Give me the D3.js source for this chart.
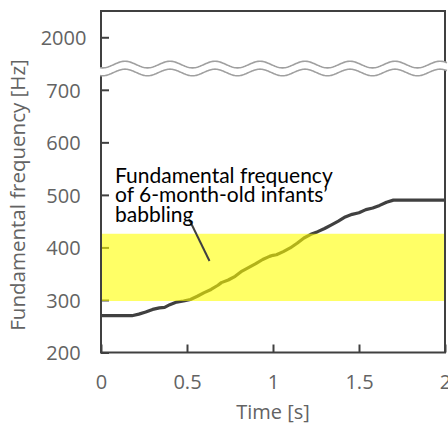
<!DOCTYPE html>
<html>
<head>
<meta charset="utf-8">
<script src="https://cdn.jsdelivr.net/npm/d3@7"></script>
<style>
  html, body { margin: 0; padding: 0; background: #ffffff; }
  svg { display: block; }
</style>
</head>
<body>
<svg id="chart" width="448" height="425"></svg>
<script>
// ---- data ----
const timeS = [0, 0.05, 0.10, 0.15, 0.18, 0.22, 0.26, 0.30, 0.34, 0.37, 0.40, 0.44, 0.48, 0.52,
  0.56, 0.60, 0.64, 0.68, 0.70, 0.74, 0.78, 0.82, 0.86, 0.90, 0.94, 0.98, 1.00, 1.02, 1.06,
  1.10, 1.14, 1.18, 1.22, 1.26, 1.30, 1.34, 1.38, 1.42, 1.46, 1.50, 1.54, 1.58, 1.62, 1.66,
  1.70, 1.80, 1.90, 2.00];
const f0Hz = [270, 270, 270, 270, 270, 273, 277, 282, 285, 286, 291, 296, 298, 301,
  307, 314, 320, 328, 333, 338, 345, 355, 362, 369, 377, 383, 385, 386, 392,
  399, 408, 418, 425, 430, 436, 443, 450, 458, 463, 466, 472, 475, 480, 486,
  490, 490, 490, 490];
const babblingRange = [298, 426];
const yTickValues = [200, 300, 400, 500, 600, 700, 800];
const yTickLabels = ["200", "300", "400", "500", "600", "700", "2000"];
const xTickValues = [0, 0.5, 1, 1.5, 2];
const xTickLabels = ["0", "0.5", "1", "1.5", "2"];
const breakValues = [733, 748];
const annotationLines = ["Fundamental frequency", "of 6-month-old infants\u2019", "babbling"];
const xTitle = "Time [s]";
const yTitle = "Fundamental frequency [Hz]";

// ---- layout ----
const L = 101, R = 445, T = 11, B = 352.5;
const svg = d3.select("#chart");
const x = d3.scaleLinear().domain([0, 2]).range([L, R]);
const y = d3.scaleLinear().domain([200, 850]).range([B, T]);
const axisColor = "#404040";
const textGray = "#636363";
const font = "'Open Sans', 'Noto Sans', sans-serif";
const annFont = "Lato, 'Open Sans', sans-serif";

// y axis ticks (inward)
const gy = svg.append("g").attr("transform", `translate(${L},0)`)
  .call(d3.axisLeft(y).tickValues(yTickValues).tickFormat((d, i) => yTickLabels[i]).tickSize(-8));
gy.select(".domain").remove();
gy.selectAll(".tick line").attr("stroke", axisColor).attr("stroke-width", 2);
gy.selectAll(".tick text").attr("x", -37.5).attr("text-anchor", "middle").attr("dy", "0.36em")
  .attr("fill", textGray).style("font-family", font).style("font-size", "20px");

// x axis ticks (inward)
const gx = svg.append("g").attr("transform", `translate(0,${B})`)
  .call(d3.axisBottom(x).tickValues(xTickValues).tickFormat((d, i) => xTickLabels[i]).tickSize(-8));
gx.select(".domain").remove();
gx.selectAll(".tick line").attr("stroke", axisColor).attr("stroke-width", 2);
gx.selectAll(".tick text").attr("y", 36.5).attr("dy", 0)
  .attr("fill", textGray).style("font-family", font).style("font-size", "20px");

// data line
const pts = timeS.map((t, i) => [t, f0Hz[i]]);
svg.append("path").datum(pts)
  .attr("d", d3.line().x(d => x(d[0])).y(d => y(d[1])))
  .attr("fill", "none").attr("stroke", axisColor).attr("stroke-width", 3.2)
  .attr("stroke-linejoin", "round");

// babbling band
svg.append("rect")
  .attr("x", L + 1).attr("width", R - L - 1)
  .attr("y", y(babblingRange[1])).attr("height", y(babblingRange[0]) - y(babblingRange[1]))
  .attr("fill", "#ffff00").attr("fill-opacity", 0.6);

// frame
svg.append("path")
  .attr("d", `M${L},${T}H${R}V${B}H${L}Z`)
  .attr("fill", "none").attr("stroke", axisColor).attr("stroke-width", 2);

// axis break (wavy lines)
const period = 45, amp = 3.3, phase0 = 125;
function wave(cy) {
  const p = [];
  for (let px = L - 1; px <= R + 2; px += 1) {
    p.push([px, cy - amp * Math.cos(2 * Math.PI * (px - phase0) / period)]);
  }
  return p;
}
const yTop = y(breakValues[1]), yBot = y(breakValues[0]);
const wt = wave(yTop), wb = wave(yBot);
svg.append("path")
  .attr("d", d3.line()(wt.concat(wb.slice().reverse())) + "Z")
  .attr("fill", "#ffffff").attr("stroke", "none");
[wt, wb].forEach(w => {
  svg.append("path").attr("d", d3.line()(w))
    .attr("fill", "none").attr("stroke", "#a0a0a0").attr("stroke-width", 1.6);
});

// annotation leader + text
svg.append("line")
  .attr("x1", 189).attr("y1", 219).attr("x2", 209.5).attr("y2", 261)
  .attr("stroke", axisColor).attr("stroke-width", 2);
const ann = svg.append("text").attr("x", 115).attr("y", 182.5)
  .attr("fill", "#000000").style("font-family", annFont).style("font-size", "21px");
annotationLines.forEach((s, i) => {
  ann.append("tspan").attr("x", 115).attr("dy", i === 0 ? 0 : 19.5).text(s);
});

// axis titles
svg.append("text").attr("x", (L + R) / 2).attr("y", 419)
  .attr("text-anchor", "middle").attr("fill", textGray)
  .style("font-family", font).style("font-size", "20px").text(xTitle);
svg.append("text").attr("transform", "translate(25,195) rotate(-90)")
  .attr("text-anchor", "middle").attr("fill", textGray)
  .style("font-family", font).style("font-size", "20.5px").text(yTitle);
</script>
</body>
</html>
